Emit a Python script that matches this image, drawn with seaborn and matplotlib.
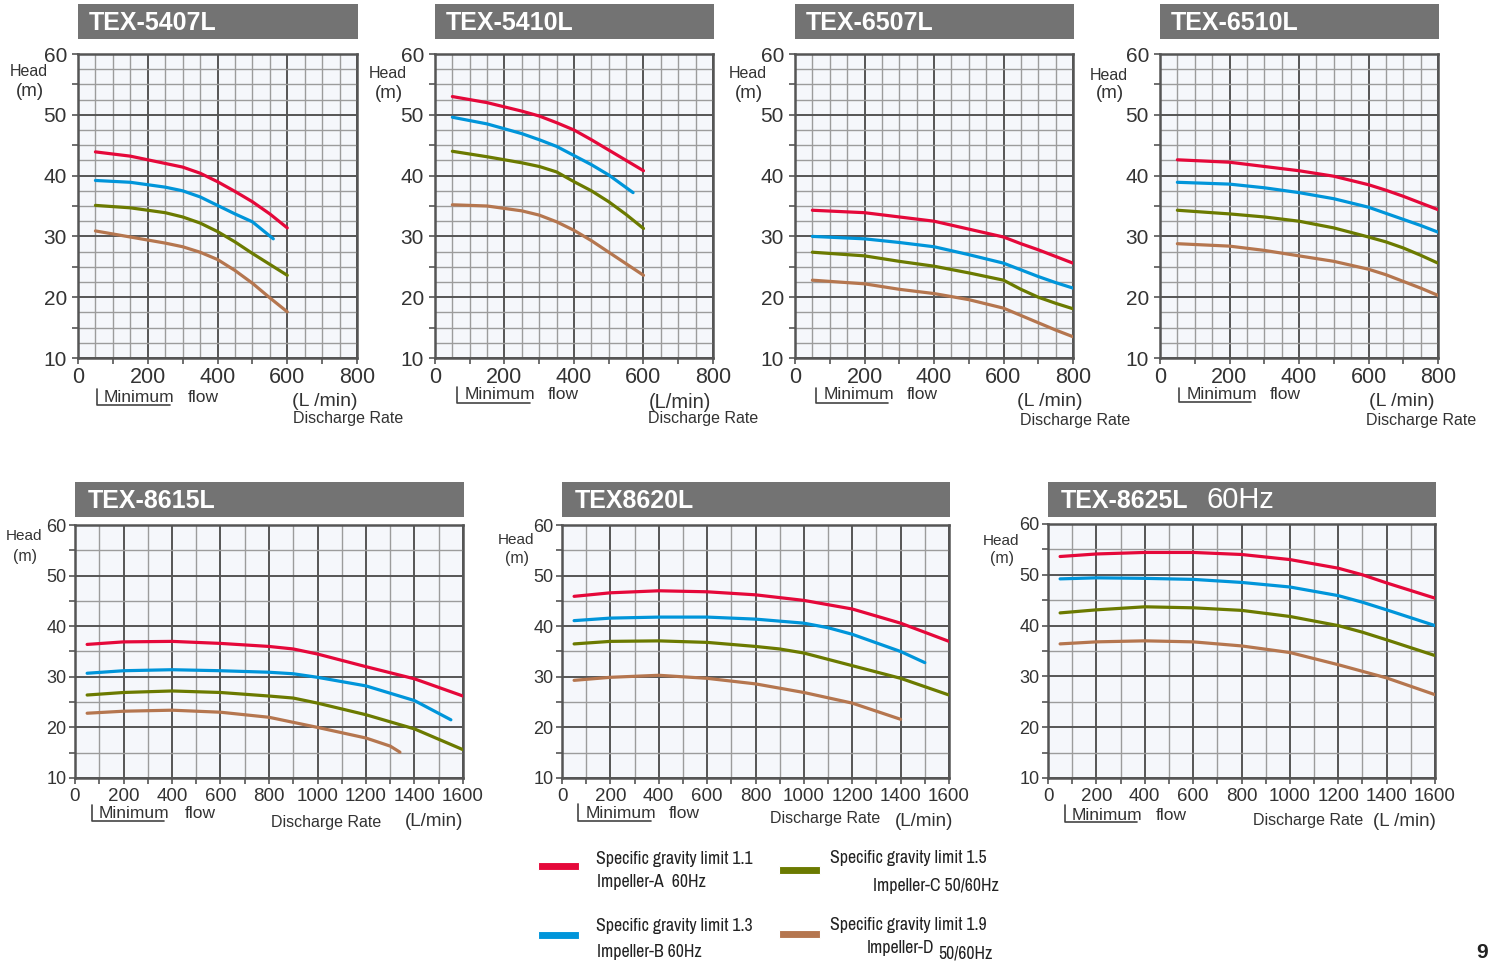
"""Pump performance curves (head vs discharge) for seven TEX models."""
import matplotlib

matplotlib.use("Agg")
import matplotlib.pyplot as plt
from matplotlib import font_manager
from matplotlib.lines import Line2D
from matplotlib.patches import Rectangle
import numpy as np
import pandas as pd
import seaborn as sns

W, H = 1500, 961

# ---- values (discharge L/min, head m) ----
q_5407 = [50, 150, 250, 300, 350, 400, 450, 500, 550, 600]
q_5407_b = [50, 150, 250, 300, 350, 400, 450, 500, 560]
h_5407_a = [43.9, 43.2, 42.0, 41.4, 40.4, 39.0, 37.4, 35.7, 33.7, 31.4]
h_5407_b = [39.2, 38.9, 38.1, 37.5, 36.5, 35.1, 33.7, 32.4, 29.6]
h_5407_c = [35.1, 34.7, 33.9, 33.2, 32.2, 30.8, 29.1, 27.2, 25.4, 23.6]
h_5407_d = [30.9, 29.9, 28.9, 28.3, 27.4, 26.2, 24.4, 22.3, 19.9, 17.6]

q_5410 = [50, 150, 250, 300, 350, 400, 450, 500, 550, 600]
q_5410_b = [50, 150, 250, 300, 350, 400, 450, 500, 570]
h_5410_a = [53.0, 52.0, 50.6, 49.8, 48.7, 47.5, 45.9, 44.2, 42.5, 40.8]
h_5410_b = [49.6, 48.5, 46.9, 45.9, 44.8, 43.3, 41.8, 40.1, 37.2]
h_5410_c = [44.0, 43.1, 42.1, 41.5, 40.6, 39.0, 37.5, 35.7, 33.6, 31.3]
h_5410_d = [35.2, 35.0, 34.2, 33.5, 32.4, 31.0, 29.3, 27.4, 25.5, 23.6]

q_6507 = [50, 200, 300, 400, 500, 600, 650, 700, 750, 800]
h_6507_a = [34.3, 33.9, 33.2, 32.5, 31.2, 29.9, 28.8, 27.8, 26.7, 25.6]
h_6507_b = [30.0, 29.6, 29.0, 28.3, 27.0, 25.6, 24.5, 23.4, 22.4, 21.5]
h_6507_c = [27.4, 26.8, 25.9, 25.1, 24.0, 22.8, 21.3, 20.0, 19.0, 18.1]
h_6507_d = [22.8, 22.2, 21.3, 20.6, 19.6, 18.2, 17.0, 15.8, 14.6, 13.5]

q_6510 = [50, 200, 300, 400, 500, 600, 650, 700, 750, 800]
h_6510_a = [42.6, 42.2, 41.5, 40.8, 39.9, 38.5, 37.6, 36.6, 35.5, 34.4]
h_6510_b = [38.9, 38.6, 38.0, 37.2, 36.2, 34.8, 33.8, 32.8, 31.8, 30.7]
h_6510_c = [34.3, 33.7, 33.2, 32.5, 31.4, 29.9, 29.1, 28.1, 26.9, 25.6]
h_6510_d = [28.8, 28.4, 27.7, 26.8, 25.9, 24.6, 23.7, 22.6, 21.5, 20.3]

q_8615 = [50, 200, 400, 600, 800, 900, 1000, 1200, 1400, 1600]
q_8615_b = [50, 200, 400, 600, 800, 900, 1000, 1200, 1400, 1550]
q_8615_d = [50, 200, 400, 600, 800, 1000, 1200, 1300, 1340]
h_8615_a = [36.4, 36.9, 37.0, 36.6, 36.0, 35.5, 34.5, 32.0, 29.6, 26.2]
h_8615_b = [30.7, 31.2, 31.4, 31.2, 30.9, 30.6, 29.9, 28.2, 25.3, 21.5]
h_8615_c = [26.4, 26.9, 27.2, 26.9, 26.2, 25.8, 24.8, 22.5, 19.7, 15.6]
h_8615_d = [22.8, 23.2, 23.4, 23.0, 22.0, 20.0, 17.9, 16.3, 15.1]

q_8620 = [50, 200, 400, 600, 800, 1000, 1200, 1400, 1600]
q_8620_b = [50, 200, 400, 600, 800, 1000, 1100, 1200, 1400, 1500]
q_8620_c = [50, 200, 400, 600, 800, 900, 1000, 1200, 1400, 1600]
q_8620_d = [50, 200, 400, 600, 800, 1000, 1200, 1400]
h_8620_a = [45.9, 46.6, 47.0, 46.8, 46.2, 45.1, 43.4, 40.6, 37.0]
h_8620_b = [41.1, 41.6, 41.8, 41.8, 41.4, 40.6, 39.7, 38.4, 35.0, 32.8]
h_8620_c = [36.5, 37.0, 37.1, 36.8, 36.0, 35.5, 34.7, 32.2, 29.7, 26.4]
h_8620_d = [29.3, 29.9, 30.3, 29.7, 28.6, 26.9, 24.8, 21.6]

q_8625 = [50, 200, 400, 600, 800, 1000, 1200, 1300, 1400, 1600]
h_8625_a = [53.6, 54.1, 54.4, 54.4, 54.0, 53.0, 51.3, 50.0, 48.4, 45.4]
h_8625_b = [49.2, 49.4, 49.3, 49.1, 48.5, 47.6, 45.9, 44.6, 43.1, 40.0]
h_8625_c = [42.5, 43.1, 43.7, 43.5, 43.0, 41.8, 40.0, 38.7, 37.2, 34.1]
h_8625_d = [36.4, 36.8, 37.0, 36.8, 36.0, 34.7, 32.3, 31.0, 29.7, 26.4]

impellers = ["A", "B", "C", "D"]
colors = ["#e5083a", "#0095da", "#6b7a00", "#b5764f"]
legend_top = ["Specific gravity limit 1.1", "Specific gravity limit 1.3",
              "Specific gravity limit 1.5", "Specific gravity limit 1.9"]
legend_sub = ["Impeller-A  60Hz", "Impeller-B 60Hz", "Impeller-C 50/60Hz", "Impeller-D"]


def frame(*series):
    return pd.concat(
        [pd.DataFrame({"q": q, "head": h, "impeller": lab}) for lab, (q, h) in zip(impellers, series)],
        ignore_index=True,
    )


def condensed_font():
    """Look for an installed narrow face for the legend; fall back to a smaller regular one."""
    fonts = font_manager.fontManager.ttflist
    for f in fonts:
        if "Narrow" in f.name or "Condensed" in f.name:
            return dict(family=[f.name, "DejaVu Sans"], fontsize=12.8)
    for f in fonts:
        if str(f.stretch) in ("condensed", "semi-condensed", "extra-condensed", "75", "87.5"):
            return dict(family=[f.name, "DejaVu Sans"], fontstretch=f.stretch, fontsize=12.8)
    return dict(family=["Liberation Sans", "DejaVu Sans"], fontsize=10.5)


sns.set_theme(style="white")
plt.rcParams["font.family"] = ["Liberation Sans", "DejaVu Sans"]
NARROW = condensed_font()
INK = "#333333"
DARK = "#555555"
LIGHT = "#9c9c9c"

fig = plt.figure(figsize=(W / 100, H / 100), dpi=100)


def fx(x):
    return x / W


def fy(y):
    return 1 - y / H


def text_px(x, y, s, **kw):
    kw.setdefault("color", INK)
    fig.text(fx(x), fy(y), s, **kw)


def line_px(xs, ys, **kw):
    fig.add_artist(Line2D([fx(v) for v in xs], [fy(v) for v in ys],
                          transform=fig.transFigure, color="#444444", lw=1.2, **kw))


panels = [
    # box = axes (left, top, right, bottom) in px; head = (x, y of "Head", y of "(m)");
    # minf = (bracket x, y0, y1, bracket end x, "Minimum" x, "flow" x, text y)
    dict(title="TEX-5407L", df=frame((q_5407, h_5407_a), (q_5407_b, h_5407_b), (q_5407, h_5407_c), (q_5407, h_5407_d)),
         box=(78, 54, 357, 358), xmax=800, head=(29, 71, 92), minf=(97, 389, 405, 170, 104, 188, 397),
         dis=[("(L /min)", 292, 402, 14), ("Discharge Rate", 293, 418, 11.5)]),
    dict(title="TEX-5410L", df=frame((q_5410, h_5410_a), (q_5410_b, h_5410_b), (q_5410, h_5410_c), (q_5410, h_5410_d)),
         box=(435, 54, 713, 358), xmax=800, head=(388, 73, 93), minf=(457, 387, 403, 530, 465, 548, 395),
         dis=[("(L/min)", 649, 402, 14.5), ("Discharge Rate", 648, 419, 11.5)]),
    dict(title="TEX-6507L", df=frame((q_6507, h_6507_a), (q_6507, h_6507_b), (q_6507, h_6507_c), (q_6507, h_6507_d)),
         box=(795, 54, 1073, 358), xmax=800, head=(748, 73, 93), minf=(816, 388, 403, 888, 824, 907, 395),
         dis=[("(L /min)", 1017, 402, 14), ("Discharge Rate", 1020, 421, 11.5)]),
    dict(title="TEX-6510L", df=frame((q_6510, h_6510_a), (q_6510, h_6510_b), (q_6510, h_6510_c), (q_6510, h_6510_d)),
         box=(1160, 54, 1438, 358), xmax=800, head=(1109, 76, 94), minf=(1179, 388, 402, 1251, 1187, 1270, 395),
         dis=[("(L /min)", 1369, 402, 14), ("Discharge Rate", 1366, 420, 11.5)]),
    dict(title="TEX-8615L", df=frame((q_8615, h_8615_a), (q_8615_b, h_8615_b), (q_8615, h_8615_c), (q_8615_d, h_8615_d)),
         box=(75, 525, 463, 778), xmax=1600, head=(24, 536, 557), minf=(92, 805, 821, 164, 99, 185, 813),
         dis=[("Discharge Rate", 271, 822, 11.5), ("(L/min)", 405, 822, 13.5)]),
    dict(title="TEX8620L", df=frame((q_8620, h_8620_a), (q_8620_b, h_8620_b), (q_8620_c, h_8620_c), (q_8620_d, h_8620_d)),
         box=(562, 525, 949, 778), xmax=1600, head=(516, 540, 558), minf=(578, 804, 821, 651, 586, 669, 813),
         dis=[("Discharge Rate", 770, 818, 11.5), ("(L/min)", 895, 821, 13.5)]),
    dict(title="TEX-8625L", df=frame((q_8625, h_8625_a), (q_8625, h_8625_b), (q_8625, h_8625_c), (q_8625, h_8625_d)),
         box=(1048, 524, 1435, 778), xmax=1600, head=(1001, 541, 558), minf=(1065, 805, 822, 1137, 1072, 1156, 815),
         dis=[("Discharge Rate", 1253, 820, 11.5), ("(L /min)", 1373, 821, 13.5)]),
]

for p in panels:
    l, t, r, b = p["box"]
    big = p["xmax"] == 800
    ax = fig.add_axes([fx(l), fy(b), (r - l) / W, (b - t) / H])
    ax.set_facecolor("#f5f7fb")

    # chart grid: dark every 200 L/min and 10 m, light in between
    xstep, ystep = (50, 2.5) if big else (100, 5)
    for v in np.arange(0, p["xmax"] + 1, xstep):
        ax.axvline(v, color=DARK if v % 200 == 0 else LIGHT, lw=1.4 if v % 200 == 0 else 1.0, zorder=0.5)
    for v in np.arange(10, 60.1, ystep):
        ax.axhline(v, color=DARK if v % 10 == 0 else LIGHT, lw=1.4 if v % 10 == 0 else 1.0, zorder=0.5)

    sns.lineplot(data=p["df"], x="q", y="head", hue="impeller", hue_order=impellers, palette=colors,
                 estimator=None, sort=False, linewidth=2.3, legend=False, ax=ax, zorder=3)

    ax.set_xlim(0, p["xmax"])
    ax.set_ylim(10, 60)
    xt = np.arange(0, p["xmax"] + 1, 100)
    ax.set_xticks(xt, [str(v) if v % 200 == 0 else "" for v in xt])
    yt = np.arange(10, 61, 5)
    ax.set_yticks(yt, [str(v) if v % 10 == 0 else "" for v in yt])
    ax.tick_params(axis="x", length=4, width=1.2, color=DARK, labelsize=15.5 if big else 13.5,
                   labelcolor=INK, pad=2.5 if big else 3.5, direction="out", bottom=True)
    ax.tick_params(axis="y", length=4, width=1.2, color=DARK, labelsize=15 if big else 13,
                   labelcolor=INK, pad=4 if big else 2, direction="out", left=True)
    ax.set_xlabel("")
    ax.set_ylabel("")
    for s in ax.spines.values():
        s.set_color(DARK)
        s.set_linewidth(1.8)

    # title bar
    ttop, tbot = (4, 39) if big else (482, 517)
    fig.add_artist(Rectangle((fx(l), fy(tbot)), (r + 1 - l) / W, (tbot - ttop) / H,
                             transform=fig.transFigure, color="#737373", lw=0))
    text_px(l + 11 if big else l + 13, (ttop + tbot) / 2 + 1, p["title"], color="white",
            fontsize=18, fontweight="bold", va="center", ha="left")
    if p["title"] == "TEX-8625L":
        text_px(1206, (ttop + tbot) / 2, "60Hz", color="white", fontsize=21, va="center", ha="left")

    # head label
    hx, hy, my = p["head"]
    text_px(hx, hy, "Head", fontsize=11.5 if big else 11, ha="center", va="center")
    text_px(hx + 1, my, "(m)", fontsize=13.5 if big else 11.5, ha="center", va="center")

    # minimum flow bracket
    vx, y0, y1, hx1, tx, fwx, ty = p["minf"]
    line_px([vx, vx, hx1], [y0, y1, y1])
    text_px(tx, ty, "Minimum", fontsize=12.5, ha="left", va="center")
    text_px(fwx, ty, "flow", fontsize=12.5, ha="left", va="center")

    for s, x, y, size in p["dis"]:
        text_px(x, y, s, fontsize=size, ha="left", va="center")

# legend
sw = [(538, 866), (538, 935), (779, 870), (779, 934)]
txt = [(596, 859, 597, 882), (596, 926, 597, 952), (830, 858, 873, 886), (830, 925, 867, 948)]
for c, (sx, sy), (ax_, ay, bx, by), top, sub in zip(colors, sw, txt, legend_top, legend_sub):
    fig.add_artist(Rectangle((fx(sx), fy(sy + 4)), 41 / W, 8 / H, transform=fig.transFigure,
                             facecolor=c, edgecolor="#ffffff", lw=0.8))
    text_px(ax_, ay, top, ha="left", va="center", color="#222222", **NARROW)
    text_px(bx, by, sub, ha="left", va="center", color="#222222", **NARROW)
text_px(938, 953, "50/60Hz", ha="left", va="center", color="#222222", **NARROW)

text_px(1482, 952, "9", fontsize=15, fontweight="bold", ha="center", va="center", color="#222222")

fig.savefig("out.png", dpi=100)
